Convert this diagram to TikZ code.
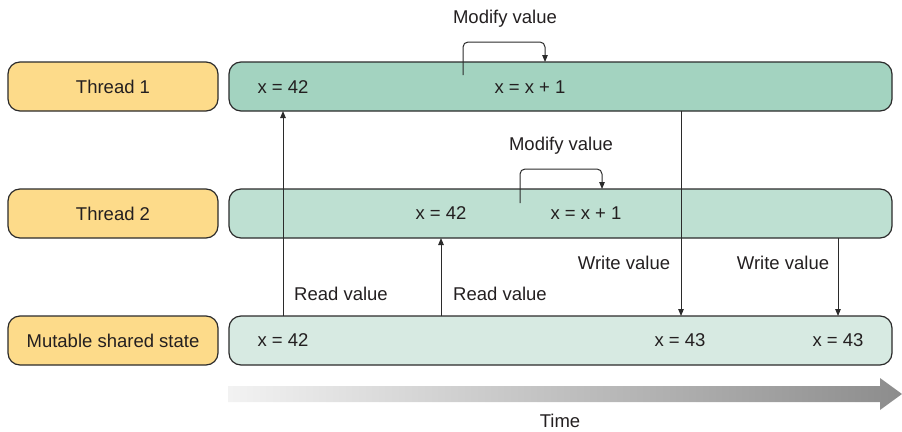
\documentclass[tikz,border=0pt]{standalone}
\usepackage{fontspec}
\setmainfont{Liberation Sans}
\usetikzlibrary{arrows.meta}
\definecolor{labelfill}{HTML}{FDDB8A}
\definecolor{barone}{HTML}{A3D3C0}
\definecolor{bartwo}{HTML}{BEE0D2}
\definecolor{barstate}{HTML}{D7EAE2}
\definecolor{edge}{HTML}{2B2B2B}
\definecolor{txt}{HTML}{231F20}
\begin{document}
\begin{tikzpicture}[x=1pt,y=-1pt,
  font=\fontsize{18.5}{21}\selectfont, text=txt,
  rowlabel/.style={draw=edge, line width=1.2pt, rounded corners=12pt, fill=labelfill,
    minimum width=210pt, minimum height=49pt, inner sep=0pt},
  rowbar/.style={draw=edge, line width=1.2pt, rounded corners=12pt,
    minimum width=663pt, minimum height=49pt, inner sep=0pt},
  flow/.style={draw=edge, line width=1pt, -{Triangle[length=7pt,width=5.5pt]}},
  bracket/.style={draw=edge, line width=1pt, rounded corners=5pt, -{Triangle[length=7pt,width=5.5pt]}},
  value/.style={inner sep=1pt}]
\useasboundingbox (0,0) rectangle (902,431);

% row labels
\node[rowlabel] (t1) at (113,86.5) {Thread 1};
\node[rowlabel] (t2) at (113,213.5) {Thread 2};
\node[rowlabel] (ms) at (113,340.5) {Mutable shared state};

% timelines
\node[rowbar, fill=barone]   (b1) at (560.5,86.5) {};
\node[rowbar, fill=bartwo]   (b2) at (560.5,213.5) {};
\node[rowbar, fill=barstate] (b3) at (560.5,340.5) {};

% values along each timeline
\node[value] (v1a) at (283,87) {x = 42};
\node[value] (v1b) at (530,87) {x = x + 1};
\node[value] (v2a) at (441,213) {x = 42};
\node[value] (v2b) at (586,213) {x = x + 1};
\node[value] (v3a) at (283,340) {x = 42};
\node[value] (v3b) at (680,340) {x = 43};
\node[value] (v3c) at (838,340) {x = 43};

% modify brackets
\coordinate (m1s) at (463,75);
\coordinate (m1e) at (545,62);
\draw[bracket] (m1s) |- (504,42) -| (m1e);
\node (m1) at (505,19) {Modify value};
\coordinate (m2s) at (520,203);
\coordinate (m2e) at (602,189);
\draw[bracket] (m2s) |- (560,169) -| (m2e);
\node (m2) at (561,146) {Modify value};

% reads and writes
\coordinate (r1s) at (283,316);
\coordinate (r1e) at (283,111);
\draw[flow] (r1s) -- (r1e);
\node (rl1) at (341,294) {Read value};
\coordinate (r2s) at (441,316);
\coordinate (r2e) at (441,238);
\draw[flow] (r2s) -- (r2e);
\node (rl2) at (500,294) {Read value};
\coordinate (w1s) at (681,111);
\coordinate (w1e) at (681,316);
\draw[flow] (w1s) -- (w1e);
\node (wl1) at (624,263) {Write value};
\coordinate (w2s) at (838,238);
\coordinate (w2e) at (838,316);
\draw[flow] (w2s) -- (w2e);
\node (wl2) at (783,263) {Write value};

% time axis
\shade[left color=black!5, right color=black!45]
  (228,386) -- (880,386) -- (880,378) -- (902,394) -- (880,410) -- (880,402) -- (228,402) -- cycle;
\node[inner sep=0pt] (time) at (560,421) {Time};
\end{tikzpicture}
\end{document}
